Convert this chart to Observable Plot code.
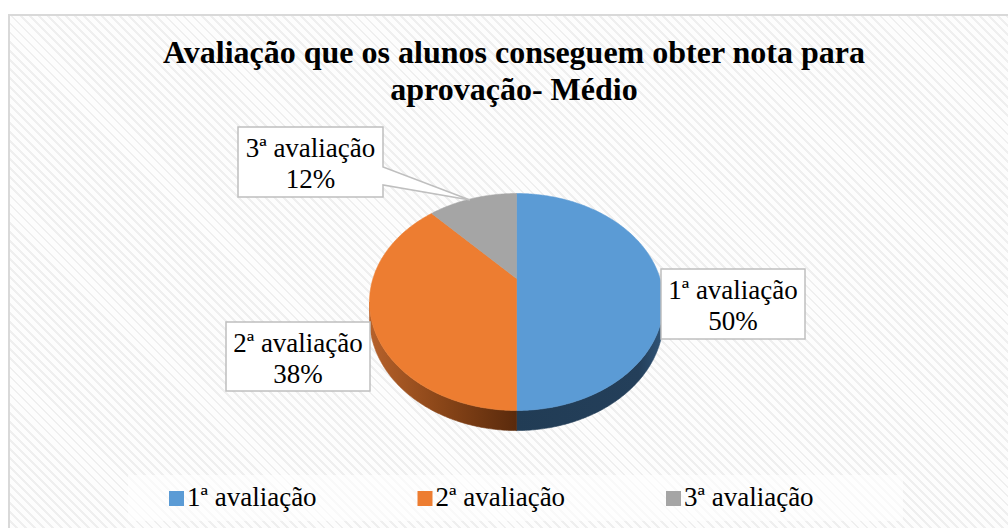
<!DOCTYPE html>
<html>
<head>
<meta charset="utf-8">
<script src="https://cdn.jsdelivr.net/npm/d3@7"></script>
<script src="https://cdn.jsdelivr.net/npm/@observablehq/plot@0.6"></script>
<style>
  html, body { margin: 0; padding: 0; background: #ffffff; }
  #page { position: relative; width: 1008px; height: 528px; overflow: hidden; }
  #frame {
    position: absolute; left: 8px; top: 14px; width: 1010px; height: 520px;
    border-left: 2px solid #d9d9d9; border-top: 2px solid #d9d9d9;
    background: repeating-linear-gradient(45deg, #fdfdfd 0px, #fdfdfd 3px, #efefef 3px, #efefef 5px, #fdfdfd 5px, #fdfdfd 6.4px);
  }
  #chart { position: absolute; left: 0; top: 0; }
  #chart svg text.serif { font-family: "Liberation Serif", "Times New Roman", serif !important; }
</style>
</head>
<body>
<div id="page">
  <div id="frame"></div>
  <div id="chart"></div>
</div>
<script>
// ---- data ----
const categories = ["1ª avaliação", "2ª avaliação", "3ª avaliação"];
const values = [50, 38, 12];
const topColors = ["#5b9bd5", "#ed7d31", "#a5a5a5"];
const titleLines = ["Avaliação que os alunos conseguem obter nota para", "aprovação- Médio"];

// ---- 3D pie geometry (perspective-projected unit disc) ----
const total = d3.sum(values);
const arcs = d3.pie().sort(null).value(d => d)(values);
const persp = 0.2166;   // perspective strength
const depth = 0.152;    // wall thickness
function proj(t, dy) {
  const u = Math.sin(t), v = Math.cos(t), k = 1 + persp * v;
  return {x: u / k, y: (v - dy) / k};
}
function rim(a, b, dy) {
  const n = Math.max(2, Math.ceil((b - a) / 0.01));
  return d3.range(n + 1).map(i => proj(a + (b - a) * i / n, dy));
}
const tops = arcs.map((a, i) => ({i, pts: [{x: 0, y: 0}, ...rim(a.startAngle, a.endAngle, 0), {x: 0, y: 0}]}));
const tMin = Math.acos(-persp), tMax = 2 * Math.PI - tMin;
const sides = [];
arcs.forEach((a, i) => {
  const s = Math.max(a.startAngle, tMin), e = Math.min(a.endAngle, tMax);
  if (e > s) {
    const up = rim(s, e, 0), down = rim(s, e, depth).reverse();
    sides.push({i, pts: [...up, ...down, up[0]]});
  }
});
const sideFills = ["url(#side0)", "url(#side1)", "url(#side2)"];

const chart = Plot.plot({
  width: 1008,
  height: 528,
  margin: 0,
  x: {domain: [-1, 1], range: [372.5, 659.5], axis: null},
  y: {domain: [-1, 1], range: [381.4, 174.6], axis: null},
  style: {background: "transparent", overflow: "visible"},
  marks: [
    ...sides.map(s => Plot.line(s.pts, {x: "x", y: "y", fill: sideFills[s.i], stroke: sideFills[s.i], strokeWidth: 0.6})),
    ...tops.map(t => Plot.line(t.pts, {x: "x", y: "y", fill: topColors[t.i], stroke: topColors[t.i], strokeWidth: 0.6}))
  ]
});

const svg = d3.select(chart);
const xs = chart.scale("x");
const defs = svg.insert("defs", ":first-child");
const g0 = defs.append("linearGradient").attr("id", "side0").attr("gradientUnits", "userSpaceOnUse")
  .attr("x1", xs.apply(0)).attr("x2", xs.apply(1)).attr("y1", 0).attr("y2", 0);
g0.append("stop").attr("offset", 0).attr("stop-color", "#213c55");
g0.append("stop").attr("offset", 0.85).attr("stop-color", "#243f5a");
g0.append("stop").attr("offset", 1).attr("stop-color", "#2f5274");
const g1 = defs.append("linearGradient").attr("id", "side1").attr("gradientUnits", "userSpaceOnUse")
  .attr("x1", xs.apply(-1)).attr("x2", xs.apply(0)).attr("y1", 0).attr("y2", 0);
g1.append("stop").attr("offset", 0).attr("stop-color", "#b4602a");
g1.append("stop").attr("offset", 0.45).attr("stop-color", "#8c4719");
g1.append("stop").attr("offset", 1).attr("stop-color", "#5a2a0c");
const g2 = defs.append("linearGradient").attr("id", "side2");
g2.append("stop").attr("offset", 0).attr("stop-color", "#6b6b6b");

const FONT = '"Liberation Serif", "Times New Roman", serif';
function serifText(sel, size, weight) {
  return sel.attr("class", "serif")
    .style("font-family", FONT)
    .style("font-size", size + "px")
    .style("font-weight", weight || "normal")
    .attr("fill", "#000");
}

// ---- title ----
serifText(svg.append("g").selectAll("text").data(titleLines).join("text"), 32, "bold")
  .attr("x", 514).attr("y", (d, i) => 63 + i * 37)
  .attr("text-anchor", "middle")
  .text(d => d);

// ---- callouts ----
const pct = values.map(v => Math.round(v / total * 100) + "%");
const callouts = [
  {i: 0, x: 661, y: 269, w: 144, h: 70, path: null},
  {i: 1, x: 226, y: 322, w: 144, h: 69, path: null},
  {i: 2, x: 238, y: 127, w: 145, h: 70, path: "M238,127H383V167L470,200L383,185V197H238Z"}
];
const cg = svg.append("g");
callouts.forEach(c => {
  if (c.path) {
    cg.append("path").attr("d", c.path).attr("fill", "#ffffff").attr("stroke", "#bfbfbf").attr("stroke-width", 1.5);
  } else {
    cg.append("rect").attr("x", c.x).attr("y", c.y).attr("width", c.w).attr("height", c.h)
      .attr("fill", "#ffffff").attr("stroke", "#bfbfbf").attr("stroke-width", 1.5);
  }
  const t = serifText(cg.append("text"), 27).attr("text-anchor", "middle");
  t.append("tspan").attr("x", c.x + c.w / 2).attr("y", c.y + 30).text(categories[c.i]);
  t.append("tspan").attr("x", c.x + c.w / 2).attr("y", c.y + 61).text(pct[c.i]);
});

// ---- legend ----
const lg = svg.append("g");
lg.append("rect").attr("x", 128).attr("y", 475).attr("width", 775).attr("height", 46)
  .attr("fill", "#ffffff").attr("fill-opacity", 0.6);
categories.forEach((c, i) => {
  const x0 = 169 + i * 248.5;
  lg.append("rect").attr("x", x0).attr("y", 491).attr("width", 15).attr("height", 15).attr("fill", topColors[i]);
  serifText(lg.append("text"), 27).attr("text-anchor", "start")
    .attr("x", x0 + 18).attr("y", 506).text(c);
});

document.getElementById("chart").appendChild(chart);
</script>
</body>
</html>
